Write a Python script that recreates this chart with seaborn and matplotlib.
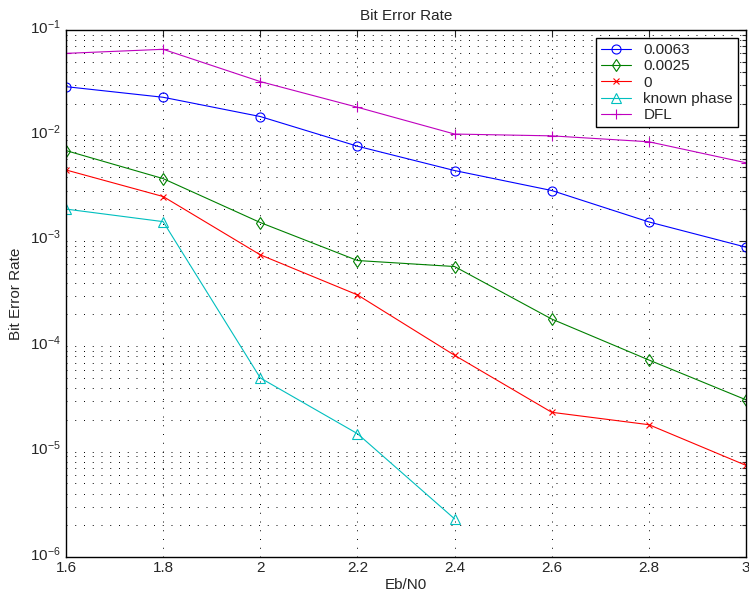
import numpy as np
import pandas as pd
import matplotlib
matplotlib.use("Agg")
import matplotlib.pyplot as plt
import matplotlib.transforms as mtransforms
import seaborn as sns
from matplotlib.ticker import LogLocator, NullFormatter

ebn0 = [1.6, 1.8, 2.0, 2.2, 2.4, 2.6, 2.8, 3.0]
ber_0063 = [0.029, 0.023, 0.0151, 0.0079, 0.00464, 0.0030, 0.00151, 0.00087]
ber_0025 = [0.00718, 0.00389, 0.00149, 0.00065, 0.00057, 0.000181, 7.4e-5, 3.1e-5]
ber_0 = [0.0047, 0.00263, 0.000736, 0.000307, 8.2e-5, 2.36e-5, 1.8e-5, 7.4e-6]
ebn0_known = [1.6, 1.8, 2.0, 2.2, 2.4]
ber_known = [0.0020, 0.00152, 5.0e-5, 1.48e-5, 2.3e-6]
ber_dfl = [0.060, 0.0656, 0.0324, 0.0185, 0.0103, 0.0099, 0.0087, 0.0055]

x_ticks = [1.6, 1.8, 2.0, 2.2, 2.4, 2.6, 2.8, 3.0]
x_tick_labels = ["1.6", "1.8", "2", "2.2", "2.4", "2.6", "2.8", "3"]

sns.set_style("white")
plt.rcParams["font.family"] = ["Liberation Sans", "DejaVu Sans"]
plt.rcParams["mathtext.fontset"] = "custom"
plt.rcParams["mathtext.rm"] = "Liberation Sans"
plt.rcParams["mathtext.it"] = "Liberation Sans"

fig = plt.figure(figsize=(7.49, 5.98), dpi=100)
ax = fig.add_axes([66 / 749, 41 / 598, 680 / 749, 527 / 598])

series = [
    (ebn0, ber_0063, "0.0063", "#0000ff", "o", 6.5),
    (ebn0, ber_0025, "0.0025", "#008000", "d", 6.5),
    (ebn0, ber_0, "0", "#ff0000", "x", 5),
    (ebn0_known, ber_known, "known phase", "#00bfbf", "^", 7),
    (ebn0, ber_dfl, "DFL", "#bf00bf", "+", 7),
]

for xs, ys, lab, col, mk, ms in series:
    df = pd.DataFrame({"x": xs, "y": ys})
    sns.lineplot(data=df, x="x", y="y", ax=ax, color=col, marker=mk,
                 markersize=ms, markerfacecolor="none", markeredgecolor=col,
                 markeredgewidth=0.8, linewidth=0.8, label=lab, sort=False)

ax.set_yscale("log")
ax.set_xlim(1.6, 3.0)
ax.set_ylim(1e-6, 1e-1)
ax.set_xticks(x_ticks)
ax.set_xticklabels(x_tick_labels)
ax.yaxis.set_major_locator(LogLocator(base=10, numticks=10))
ax.yaxis.set_minor_locator(LogLocator(base=10, subs=np.arange(2, 10), numticks=20))
ax.yaxis.set_minor_formatter(NullFormatter())

grid_ls = (0, (1, 8))
ax.grid(True, which="major", axis="both", color="black", linestyle=grid_ls, linewidth=0.7)
ax.grid(True, which="minor", axis="y", color="black", linestyle=grid_ls, linewidth=0.7)

ax.tick_params(axis="both", which="both", direction="in", top=True, right=True,
               labelsize=11, width=0.8)
ax.tick_params(axis="both", which="major", length=5)
ax.tick_params(axis="y", which="minor", length=3)
ax.tick_params(axis="x", which="major", pad=3)
for s in ax.spines.values():
    s.set_color("black")
    s.set_linewidth(1.0)

# nudge y tick labels up slightly (MATLAB-like placement)
offset = mtransforms.ScaledTranslation(0, 3 / 72, fig.dpi_scale_trans)
for lbl in ax.get_yticklabels():
    lbl.set_transform(lbl.get_transform() + offset)

ax.set_title("Bit Error Rate", fontsize=11, pad=7)
ax.set_xlabel("Eb/N0", fontsize=11, labelpad=2)
ax.set_ylabel("Bit Error Rate", fontsize=11, labelpad=5)

leg = ax.legend(loc="upper right", fontsize=11, frameon=True, fancybox=False,
                edgecolor="black", framealpha=1, borderpad=0.3, labelspacing=0.15,
                handlelength=2.0, borderaxespad=0.55)
leg.get_frame().set_linewidth(1.0)

fig.savefig("out.png", dpi=100)
